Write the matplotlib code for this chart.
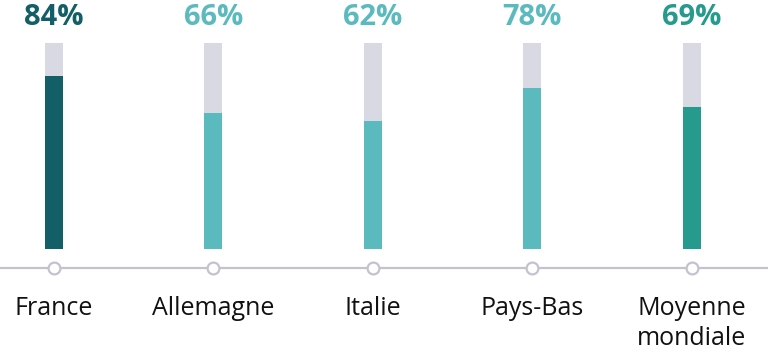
import matplotlib.pyplot as plt
import numpy as np

plt.rcParams['font.family'] = ['Open Sans', 'DejaVu Sans']

# Données
categories = ["France", "Allemagne", "Italie", "Pays-Bas", "Moyenne\nmondiale"]
valeurs = [84, 66, 62, 78, 69]
etiquettes = ["84%", "66%", "62%", "78%", "69%"]
couleurs = ["#135f68", "#5bbabd", "#5bbabd", "#5bbabd", "#279a8e"]

fond = "#d9d9e3"
gris_axe = "#c3c3cf"

fig = plt.figure(figsize=(7.68, 3.51), dpi=100)
ax = fig.add_axes([0, (351 - 268) / 351, 1, (268 - 43) / 351])

x = np.arange(len(categories))
largeur = 0.113

# Barres de fond (100 %) puis valeurs
ax.bar(x, [100] * len(x), width=largeur, color=fond, zorder=1)
ax.bar(x, valeurs, width=largeur, color=couleurs, zorder=2)

# Étiquettes en pourcentage
for xi, v, lab, c in zip(x, valeurs, etiquettes, couleurs):
    ax.annotate(lab, (xi, 100), xytext=(0, 18.5), textcoords="offset points",
                ha="center", va="center", fontsize=21, fontweight="bold", color=c)

y0 = -19 / 206 * 100
ax.set_xlim(-54 / 159.4, 4 + (768 - 691.5) / 159.4)
ax.set_ylim(y0, 100)

# Axe horizontal avec cercles
ax.axhline(y0, color=gris_axe, lw=1.6, zorder=3, clip_on=False)
ax.plot(x, [y0] * len(x), "o", ms=8.5, mfc="white", mec=gris_axe, mew=1.6,
        zorder=4, clip_on=False)

ax.set_xticks(x)
ax.set_xticklabels(categories, fontsize=18, color="#111111", va="top",
                   linespacing=1.3)
ax.tick_params(axis="x", length=0, pad=20)
ax.set_yticks([])
for s in ax.spines.values():
    s.set_visible(False)

fig.savefig("out.png", dpi=100)
